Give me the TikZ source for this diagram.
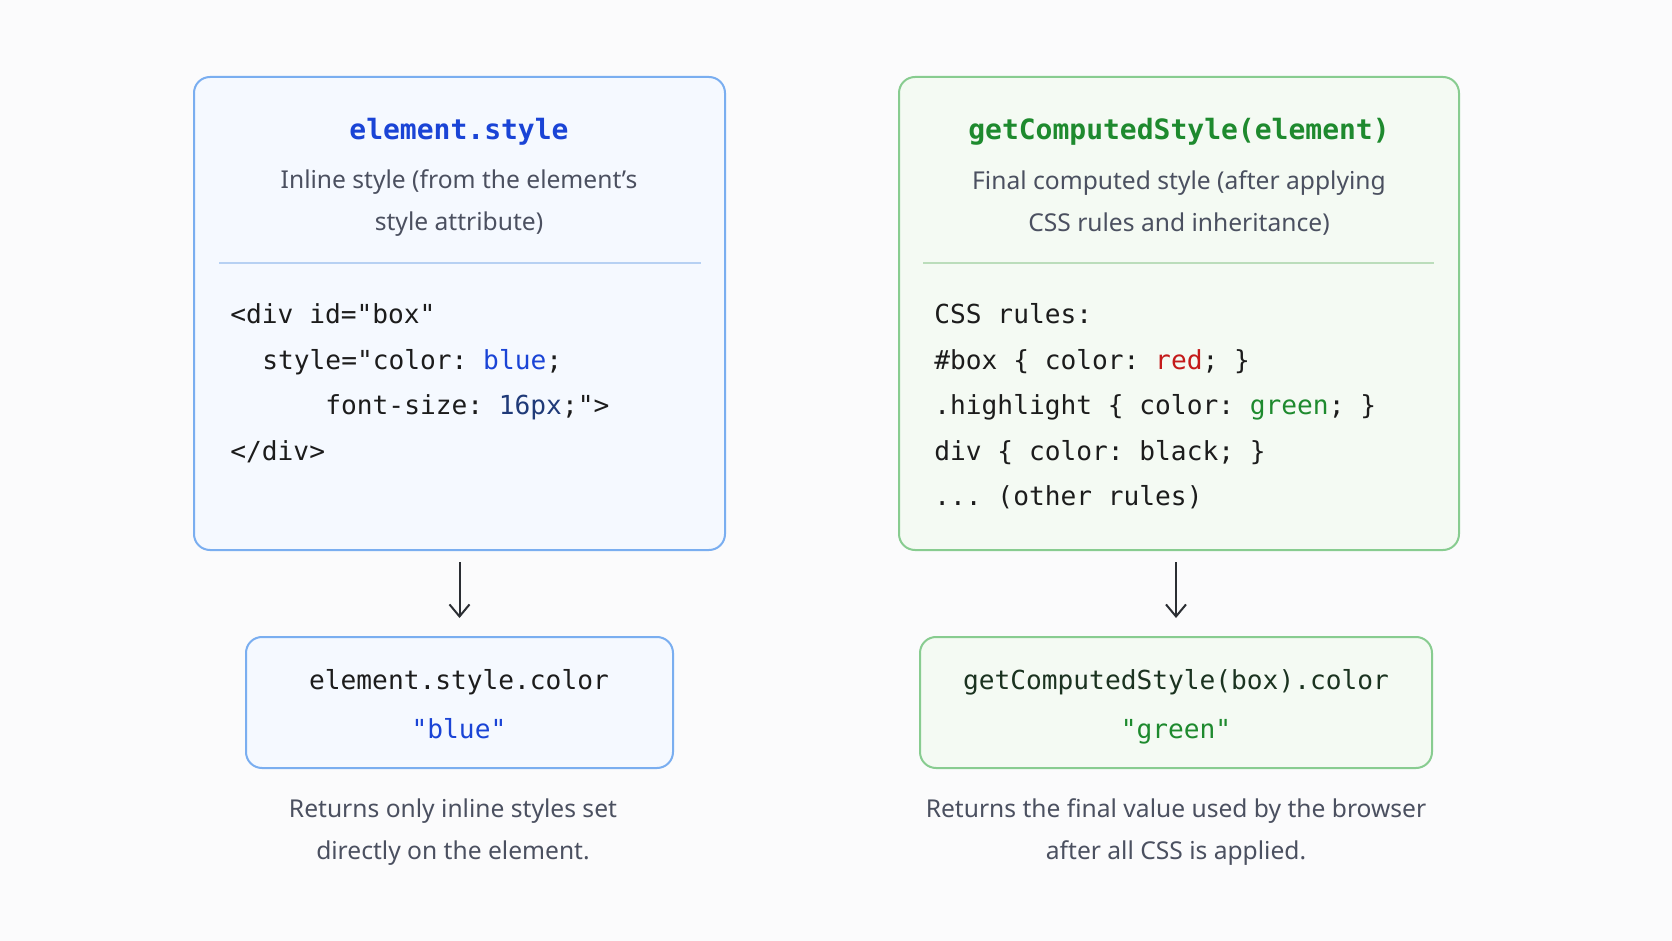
\documentclass[tikz,border=0pt]{standalone}
\usepackage{fontspec}
\setsansfont{Noto Sans}
\setmonofont{DejaVu Sans Mono}
\usepackage{xcolor}
\usetikzlibrary{arrows.meta,positioning,calc}
\definecolor{pagebg}{HTML}{FBFBFC}
\definecolor{bluebd}{HTML}{7AAEF0}
\definecolor{bluebg}{HTML}{F5F9FF}
\definecolor{bluesep}{HTML}{B7D1F3}
\definecolor{greenbd}{HTML}{88CC90}
\definecolor{greenbg}{HTML}{F4FAF3}
\definecolor{greensep}{HTML}{BBDDBB}
\definecolor{jsblue}{HTML}{1A44D6}
\definecolor{jsgreen}{HTML}{1E8A2E}
\definecolor{jsred}{HTML}{C41A1A}
\definecolor{jsnavy}{HTML}{1F3A78}
\definecolor{codeink}{HTML}{1C1C1C}
\definecolor{darkgreenink}{HTML}{1B3320}
\definecolor{descgray}{HTML}{4B5060}
\definecolor{arrowink}{HTML}{2B2E33}
\tikzset{
  pane/.style={rectangle,rounded corners=8pt,line width=1pt,outer sep=0pt,inner sep=0pt},
  inlpane/.style={pane,draw=bluebd,fill=bluebg},
  cmppane/.style={pane,draw=greenbd,fill=greenbg},
  title/.style={font=\ttfamily\bfseries\fontsize{14}{17}\selectfont,inner sep=0pt},
  desc/.style={font=\sffamily\fontsize{12.3}{21}\selectfont,text=descgray,align=center,inner sep=0pt},
  codeln/.style={font=\ttfamily\fontsize{13.1}{16}\selectfont,text=codeink,anchor=base west,inner sep=0pt},
  valln/.style={font=\ttfamily\fontsize{13.1}{16}\selectfont,anchor=base,inner sep=0pt},
  sepline/.style={line width=.75pt},
  flow/.style={line width=1pt,arrowink,-{Straight Barb[length=6pt,width=10pt]},shorten <=6pt,shorten >=9.5pt}
}
\begin{document}
\begin{tikzpicture}[x=0.5pt,y=-0.5pt]
  \fill[pagebg] (0,0) rectangle (1672,941);
  \useasboundingbox (0,0) rectangle (1672,941);

  % left column: element.style
  \node[inlpane,minimum width=265.5pt,minimum height=236.5pt] (inl) at (459.5,313.5) {};
  \node[title,text=jsblue] (inltitle) at (459,132) {element.style};
  \node[desc] (inlsub) at (459,203) {Inline style (from the element's\\style attribute)};
  \draw[sepline,bluesep] (219,263) -- (701,263);
  \node[codeln] (inl1) at (230,324) {<div id="box"};
  \node[codeln] (inl2) at (262,370) {style="color: \textcolor{jsblue}{blue};};
  \node[codeln] (inl3) at (325,415) {font-size: \textcolor{jsnavy}{16px};">};
  \node[codeln] (inl4) at (230,460) {</div>};

  \node[inlpane,minimum width=213.5pt,minimum height=65.5pt] (inlval) at (459.5,702.5) {};
  \node[valln,text=codeink] (inlprop) at (459,689) {element.style.color};
  \node[valln,text=jsblue] (inlres) at (459,738) {"blue"};
  \node[desc] (inlnote) at (453,832) {Returns only inline styles set\\directly on the element.};
  \draw[flow] (inl.south) -- (inlval.north);

  % right column: getComputedStyle
  \node[cmppane,minimum width=280pt,minimum height=236.5pt] (cmp) at (1179,313.5) {};
  \node[title,text=jsgreen] (cmptitle) at (1179,132) {getComputedStyle(element)};
  \node[desc] (cmpsub) at (1179,203) {Final computed style (after applying\\CSS rules and inheritance)};
  \draw[sepline,greensep] (923,263) -- (1434,263);
  \node[codeln] (cmp1) at (934,324) {CSS rules:};
  \node[codeln] (cmp2) at (934,370) {\#box \{ color: \textcolor{jsred}{red}; \}};
  \node[codeln] (cmp3) at (934,415) {.highlight \{ color: \textcolor{jsgreen}{green}; \}};
  \node[codeln] (cmp4) at (934,460) {div \{ color: black; \}};
  \node[codeln] (cmp5) at (934,505) {... (other rules)};

  \node[cmppane,minimum width=256pt,minimum height=65.5pt] (cmpval) at (1176,702.5) {};
  \node[valln,text=darkgreenink] (cmpprop) at (1176,689) {getComputedStyle(box).color};
  \node[valln,text=jsgreen] (cmpres) at (1176,738) {"green"};
  \node[desc] (cmpnote) at (1176,832) {Returns the final value used by the browser\\after all CSS is applied.};
  \draw[flow] (cmp.south -| cmpval.north) -- (cmpval.north);
\end{tikzpicture}
\end{document}
